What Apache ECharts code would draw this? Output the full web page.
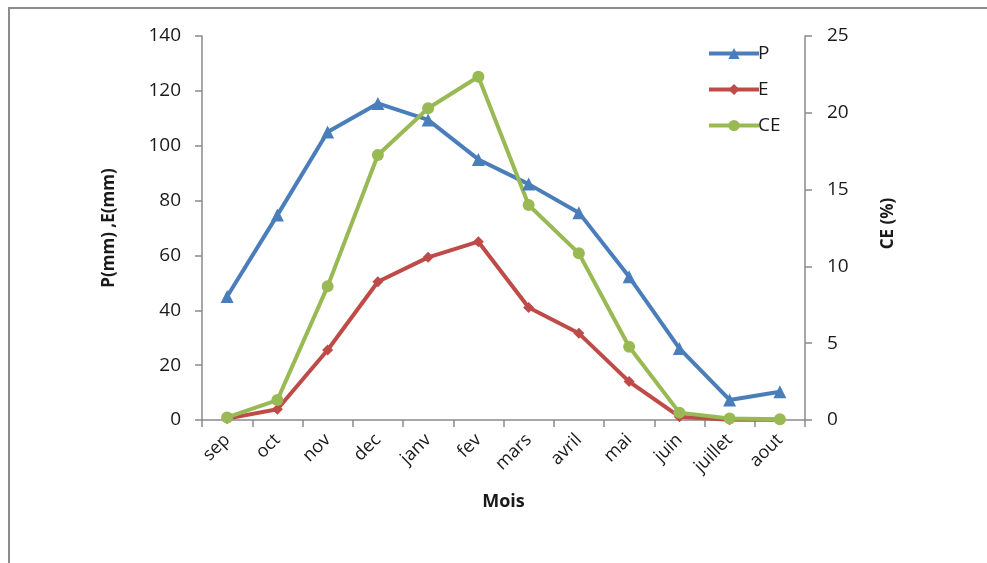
<!DOCTYPE html>
<html>
<head>
<meta charset="utf-8">
<script src="https://cdn.jsdelivr.net/npm/echarts@6/dist/echarts.min.js"></script>
<style>
  html, body { margin: 0; padding: 0; background: #fff; }
  #chart { width: 987px; height: 563px; }
</style>
</head>
<body>
<div id="chart"></div>
<script>
// Monthly precipitation P, runoff E (mm) and runoff coefficient CE (%)
const months = ['sep', 'oct', 'nov', 'dec', 'janv', 'fev', 'mars', 'avril', 'mai', 'juin', 'juillet', 'aout'];
const precip = [45, 74.7, 105, 115.4, 109.4, 95, 86, 75.6, 52.2, 26.1, 7.3, 10.3];
const runoff = [0.5, 3.9, 25.5, 50.4, 59.3, 65, 41, 31.6, 14, 1.2, 0.1, 0.1];
const coeff = [0.17, 1.3, 8.7, 17.25, 20.3, 22.35, 14.0, 10.85, 4.77, 0.48, 0.1, 0.05];
const leftTicks = { min: 0, max: 140, interval: 20 };
const rightTicks = { min: 0, max: 25, interval: 5 };

const FONT = '"Open Sans", "Noto Sans", sans-serif';
const AXIS_GREY = '#8a8a8a';
const TEXT = '#1a1a1a';

const chart = echarts.init(document.getElementById('chart'), null, { renderer: 'canvas' });

const axisCommon = {
  axisLine: { show: true, lineStyle: { color: AXIS_GREY, width: 1.5 } },
  axisTick: { show: true, length: 7, lineStyle: { color: AXIS_GREY, width: 1.5 } },
  splitLine: { show: false }
};

chart.setOption({
  backgroundColor: '#fff',
  animation: false,
  graphic: [{
    type: 'rect',
    shape: { x: 9, y: 8, width: 1100, height: 700 },
    style: { fill: 'none', stroke: '#8c8c8c', lineWidth: 2 },
    silent: true
  }],
  grid: { left: 202, right: 182, top: 36, bottom: 143 },
  legend: {
    orient: 'vertical',
    left: 702,
    top: 39,
    itemWidth: 50,
    itemHeight: 14,
    itemGap: 17,
    lineStyle: { width: 4 },
    textStyle: { color: TEXT, fontFamily: FONT, fontSize: 19, padding: [0, 0, 0, -6] },
    data: ['P', 'E', 'CE']
  },
  xAxis: {
    type: 'category',
    data: months,
    boundaryGap: true,
    name: 'Mois',
    nameLocation: 'middle',
    nameGap: 73,
    nameTextStyle: { color: TEXT, fontFamily: FONT, fontSize: 18, fontWeight: 'bold' },
    axisLine: { show: true, lineStyle: { color: AXIS_GREY, width: 1.5 } },
    axisTick: { show: true, length: 7, alignWithLabel: false, lineStyle: { color: AXIS_GREY, width: 1.5 } },
    axisLabel: { color: TEXT, fontFamily: FONT, fontSize: 18, rotate: 45, margin: 17, interval: 0 },
    splitLine: { show: false }
  },
  yAxis: [
    Object.assign({}, axisCommon, {
      type: 'value',
      position: 'left',
      min: leftTicks.min, max: leftTicks.max, interval: leftTicks.interval,
      name: 'P(mm) ,E(mm)',
      nameLocation: 'middle',
      nameRotate: 90,
      nameGap: 84,
      nameTextStyle: { color: TEXT, fontFamily: FONT, fontSize: 17, fontWeight: 'bold' },
      axisLabel: { color: TEXT, fontFamily: FONT, fontSize: 19, margin: 21 }
    }),
    Object.assign({}, axisCommon, {
      type: 'value',
      position: 'right',
      min: rightTicks.min, max: rightTicks.max, interval: rightTicks.interval,
      name: 'CE (%)',
      nameLocation: 'middle',
      nameRotate: 90,
      nameGap: 75,
      nameTextStyle: { color: TEXT, fontFamily: FONT, fontSize: 17, fontWeight: 'bold', padding: [0, 0, 0, 9] },
      axisLabel: { color: TEXT, fontFamily: FONT, fontSize: 19, margin: 22 }
    })
  ],
  series: [
    {
      name: 'P', type: 'line', yAxisIndex: 0, data: precip,
      symbol: 'triangle', symbolSize: 13,
      lineStyle: { color: '#4a7ebb', width: 4 },
      itemStyle: { color: '#4a7ebb' }
    },
    {
      name: 'E', type: 'line', yAxisIndex: 0, data: runoff,
      symbol: 'diamond', symbolSize: 11,
      lineStyle: { color: '#be4b48', width: 4 },
      itemStyle: { color: '#be4b48' }
    },
    {
      name: 'CE', type: 'line', yAxisIndex: 1, data: coeff,
      symbol: 'circle', symbolSize: 12,
      lineStyle: { color: '#98b954', width: 4 },
      itemStyle: { color: '#98b954' }
    }
  ]
});
</script>
</body>
</html>
